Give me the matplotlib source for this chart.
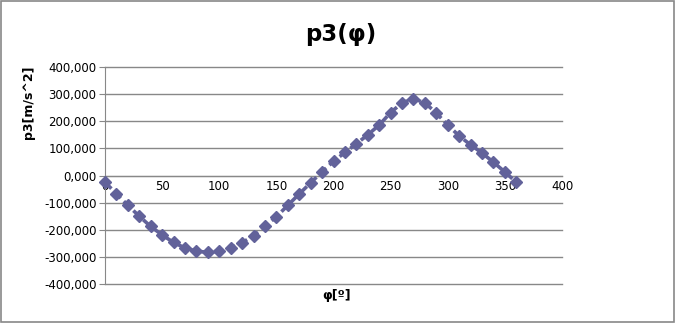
import matplotlib
from matplotlib import pyplot as plt
from matplotlib.ticker import FuncFormatter

matplotlib.use("Agg")

# crank angle [deg] and p3 [m/s^2]
phi = [0, 10, 20, 30, 40, 50, 60, 70, 80, 90, 100, 110, 120, 130, 140, 150, 160, 170, 180,
       190, 200, 210, 220, 230, 240, 250, 260, 270, 280, 290, 300, 310, 320, 330, 340, 350, 360]
p3 = [-25000, -67000, -110000, -150000, -188000, -219000, -247000, -267000, -279000, -283000,
      -279000, -268000, -248000, -222000, -188000, -152000, -110000, -68000, -27000,
      14000, 52000, 85000, 117000, 150000, 186000, 232000, 268000, 283000, 268000, 230000,
      186000, 146000, 113000, 83000, 49000, 13000, -25000]

title = "p3(φ)"
x_label = "φ[º]"
y_label = "p3[m/s^2]"
x_ticks = [0, 50, 100, 150, 200, 250, 300, 350, 400]
y_ticks = [-400000, -300000, -200000, -100000, 0, 100000, 200000, 300000, 400000]

line_color = "#62629a"
grid_color = "#888888"


def _fmt(value, _pos):
    if value == 0:
        return "0,000"
    return f"{value / 1000:.0f},000"


fig = plt.figure(figsize=(6.75, 3.23), dpi=100)
ax = fig.add_axes([105 / 675, 1 - 284 / 323, (562 - 105) / 675, (284 - 67) / 323])

ax.plot(phi, p3, color=line_color, linestyle=(0, (2.5, 1.2)), linewidth=2.6,
        marker="D", markersize=6.5, markeredgecolor=line_color, markerfacecolor=line_color,
        clip_on=False, zorder=3)

ax.set_xlim(0, 400)
ax.set_ylim(-400000, 400000)
ax.set_xticks(x_ticks)
ax.set_yticks(y_ticks)
ax.yaxis.set_major_formatter(FuncFormatter(_fmt))
for tick in y_ticks:
    ax.axhline(tick, color=grid_color, linewidth=1, clip_on=False, zorder=0)

for side in ("top", "right"):
    ax.spines[side].set_visible(False)
ax.spines["left"].set_color(grid_color)
ax.spines["bottom"].set_position(("data", 0))
ax.spines["bottom"].set_color(grid_color)
ax.tick_params(axis="y", length=4, color=grid_color, labelsize=8.5, pad=2)
ax.tick_params(axis="x", length=0, labelsize=8.5, pad=3)

fig.text(341 / 675, 1 - 35 / 323, title, fontsize=16.5, fontweight="bold", ha="center", va="center")
fig.text(337 / 675, 1 - 296 / 323, x_label, fontsize=9, fontweight="bold", ha="center", va="center")
fig.text(28 / 675, 1 - 102 / 323, y_label, fontsize=9, fontweight="bold", rotation=90,
         ha="center", va="center")

border = plt.Rectangle((0.0015, 0.003), 0.997, 0.994, transform=fig.transFigure, fill=False,
                       edgecolor=grid_color, linewidth=1.2)
fig.add_artist(border)

fig.savefig("out.png", dpi=100)
plt.close(fig)
